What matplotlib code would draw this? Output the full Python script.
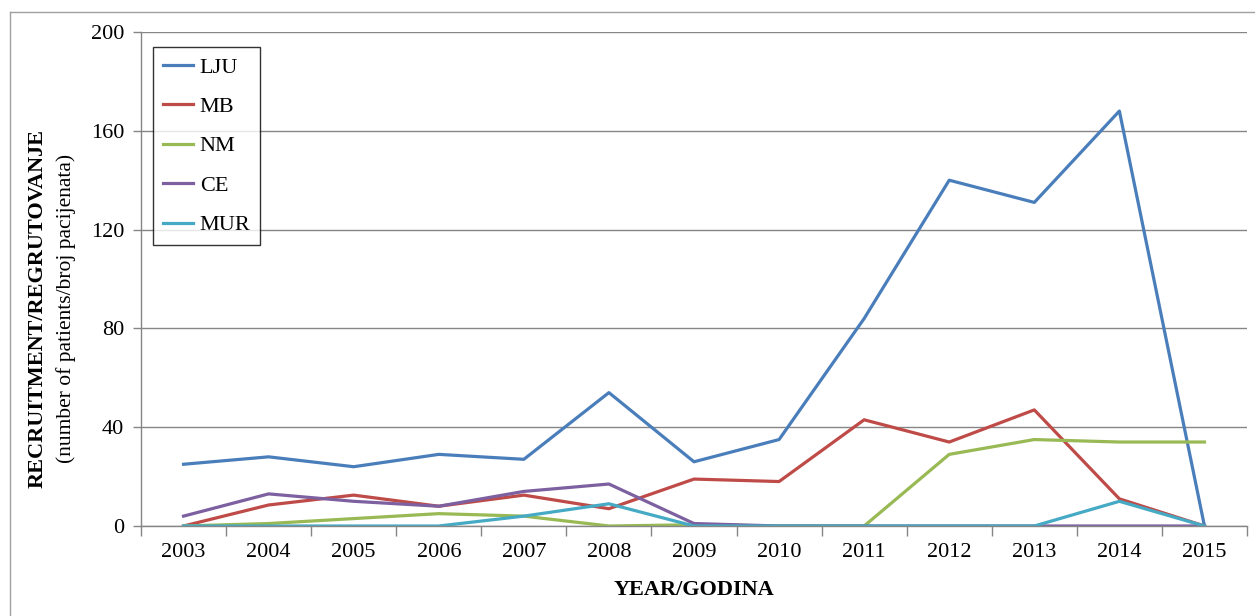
import matplotlib
matplotlib.use("Agg")
import matplotlib.pyplot as plt
from matplotlib.lines import Line2D

years = ["2003", "2004", "2005", "2006", "2007", "2008", "2009", "2010",
         "2011", "2012", "2013", "2014", "2015"]
lju = [25, 28, 24, 29, 27, 54, 26, 35, 84, 140, 131, 168, 0]
mb = [0, 8.5, 12.5, 8, 12.5, 7, 19, 18, 43, 34, 47, 11, 0]
nm = [0, 1, 3, 5, 4, 0, 0.5, 0, 0, 29, 35, 34, 34]
ce = [4, 13, 10, 8, 14, 17, 1, 0, 0, 0, 0, 0, 0]
mur = [0, 0, 0, 0, 4, 9, 0, 0, 0, 0, 0, 10, 0]

series = [("LJU", lju, "#4A7EBB"), ("MB", mb, "#BE4B48"), ("NM", nm, "#98B954"),
          ("CE", ce, "#7D60A0"), ("MUR", mur, "#46AAC5")]

plt.rcParams['font.family'] = ['Liberation Serif', 'DejaVu Serif']

fig = plt.figure(figsize=(12.55, 6.16), dpi=100)
ax = fig.add_axes([141/1255, 1-526/616, (1247-141)/1255, (526-32)/616])

x = list(range(len(years)))
for name, vals, col in series:
    ax.plot(x, vals, color=col, lw=2.3, label=name, solid_joinstyle='round')

ax.set_xlim(-0.5, len(years)-0.5)
ax.set_ylim(0, 200)
ax.set_yticks([0, 40, 80, 120, 160, 200])
ax.set_xticks(x)
ax.set_xticklabels(years, fontsize=16)
ax.tick_params(axis='x', length=0, pad=12)
ax.set_xticks([i - 0.5 for i in range(len(years)+1)], minor=True)
ax.tick_params(axis='x', which='minor', length=7, color='#868686', width=1)
ax.tick_params(axis='y', labelsize=16, length=6, color='#868686', width=1, pad=6)
ax.yaxis.grid(True, color='#868686', lw=1)
ax.set_axisbelow(True)
for s in ['top', 'right']:
    ax.spines[s].set_visible(False)
for s in ['left', 'bottom']:
    ax.spines[s].set_color('#868686')
    ax.spines[s].set_linewidth(1)

ax.set_xlabel("YEAR/GODINA", fontsize=16, fontweight='bold', labelpad=13)

fig.text(38/1255, 1-308/616, "RECRUITMENT/REGRUTOVANJE", rotation=90, fontsize=16,
         fontweight='bold', ha='center', va='center')
fig.text(66/1255, 1-308/616, "(number of patients/broj pacijenata)", rotation=90,
         fontsize=15.5, ha='center', va='center')

leg = ax.legend(loc='upper left', bbox_to_anchor=(12/1106, 1-15/494), fontsize=16,
                frameon=True, fancybox=False, edgecolor='black', handlelength=1.35,
                handletextpad=0.3, labelspacing=0.85, borderpad=0.45, borderaxespad=0)
leg.get_frame().set_linewidth(1)

fig.add_artist(Line2D([10/1255, 10/1255], [0, 1-12/616], color='#A0A0A0', lw=1))
fig.add_artist(Line2D([10/1255, 1], [1-12/616, 1-12/616], color='#A0A0A0', lw=1))

fig.savefig("out.png", dpi=100, facecolor='white')
